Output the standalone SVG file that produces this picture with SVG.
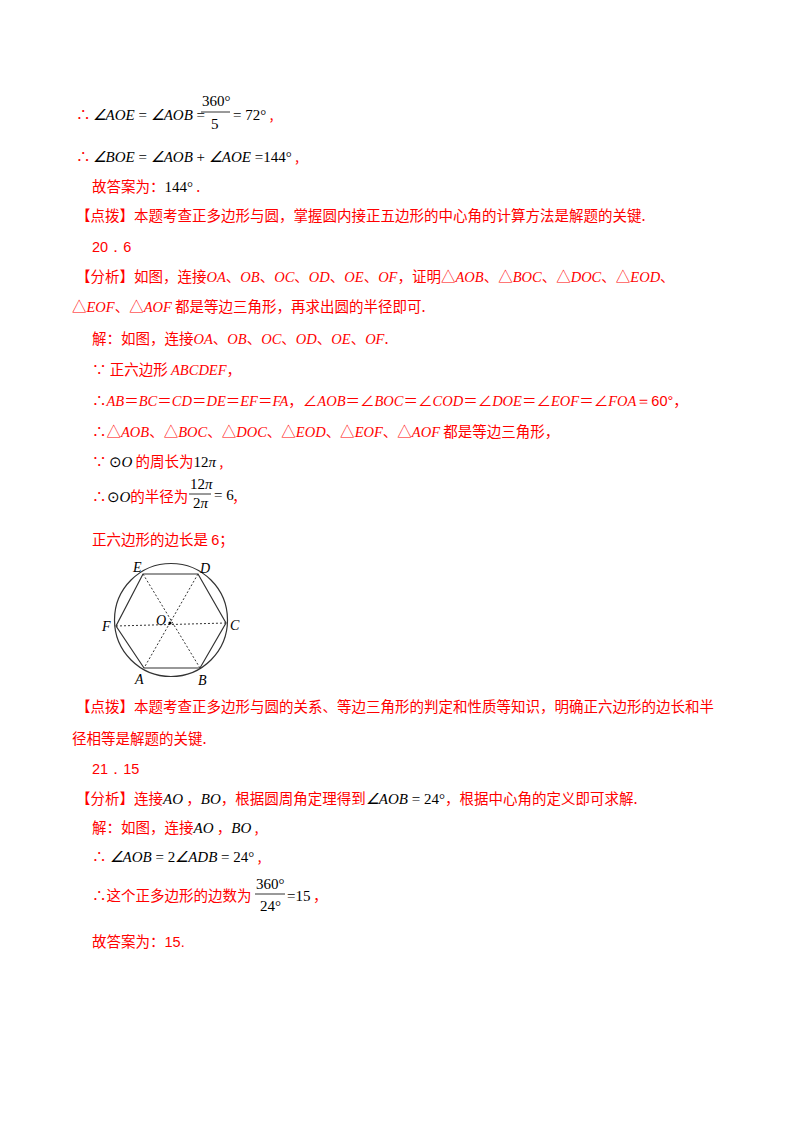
<svg xmlns="http://www.w3.org/2000/svg" width="800" height="1132" viewBox="0 0 800 1132">
<style>
text{font-family:"Noto Sans CJK SC",sans-serif;font-size:14.5px;fill:#f00}
.m{font-family:"Liberation Serif",serif;font-style:italic}
.k{font-family:"Liberation Serif",serif;fill:#000;font-size:15px}
.ki{font-family:"Liberation Serif",serif;fill:#000;font-style:italic;font-size:15px}
.n{font-family:"Liberation Sans",sans-serif}
.lab{font-family:"Liberation Serif",serif;font-style:italic;fill:#000;font-size:14px}
.dash{stroke:#333;stroke-width:1;stroke-dasharray:2,2;fill:none}
</style>
<rect width="800" height="1132" fill="#fff"/>
<text x="76" y="120">∴<tspan class="ki" dx="2">∠AOE</tspan><tspan class="k"> = </tspan><tspan class="ki">∠AOB</tspan><tspan class="k"> =</tspan></text>
<text class="k" x="202" y="106">360°</text>
<line x1="201" y1="112" x2="230" y2="112" stroke="#000" stroke-width="0.8"/>
<text class="k" x="211" y="129">5</text>
<text x="233" y="120"><tspan class="k">= 72°</tspan> ,</text>
<text x="76" y="162">∴<tspan class="ki" dx="2">∠BOE</tspan><tspan class="k"> = </tspan><tspan class="ki">∠AOB</tspan><tspan class="k"> + </tspan><tspan class="ki">∠AOE</tspan><tspan class="k"> =144°</tspan> ,</text>
<text x="92" y="192">故答案为：<tspan class="k">144°</tspan> .</text>
<text x="76" y="221">【点拨】本题考查正多边形与圆，掌握圆内接正五边形的中心角的计算方法是解题的关键.</text>
<text x="92" y="252" class="n" font-size="15">20．6</text>
<text x="76" y="282">【分析】如图，连接<tspan class="m">OA</tspan>、<tspan class="m">OB</tspan>、<tspan class="m">OC</tspan>、<tspan class="m">OD</tspan>、<tspan class="m">OE</tspan>、<tspan class="m">OF</tspan>，证明△<tspan class="m">AOB</tspan>、△<tspan class="m">BOC</tspan>、△<tspan class="m">DOC</tspan>、△<tspan class="m">EOD</tspan>、</text>
<text x="72" y="312">△<tspan class="m">EOF</tspan>、△<tspan class="m">AOF</tspan> 都是等边三角形，再求出圆的半径即可.</text>
<text x="92" y="344">解：如图，连接<tspan class="m">OA</tspan>、<tspan class="m">OB</tspan>、<tspan class="m">OC</tspan>、<tspan class="m">OD</tspan>、<tspan class="m">OE</tspan>、<tspan class="m">OF</tspan>.</text>
<text x="92" y="375">∵ 正六边形 <tspan class="m">ABCDEF</tspan>，</text>
<text x="92" y="406">∴<tspan class="m">AB</tspan>＝<tspan class="m">BC</tspan>＝<tspan class="m">CD</tspan>＝<tspan class="m">DE</tspan>＝<tspan class="m">EF</tspan>＝<tspan class="m">FA</tspan>，∠<tspan class="m">AOB</tspan>＝∠<tspan class="m">BOC</tspan>＝∠<tspan class="m">COD</tspan>＝∠<tspan class="m">DOE</tspan>＝∠<tspan class="m">EOF</tspan>＝∠<tspan class="m">FOA</tspan><tspan class="n">＝60°</tspan>，</text>
<text x="92" y="437">∴△<tspan class="m">AOB</tspan>、△<tspan class="m">BOC</tspan>、△<tspan class="m">DOC</tspan>、△<tspan class="m">EOD</tspan>、△<tspan class="m">EOF</tspan>、△<tspan class="m">AOF</tspan> 都是等边三角形，</text>
<text x="92" y="467">∵<tspan class="k" dx="2">⊙</tspan><tspan class="ki">O</tspan> 的周长为<tspan class="k">12</tspan><tspan class="ki">π</tspan> ,</text>
<text x="92" y="502">∴<tspan class="k">⊙</tspan><tspan class="ki">O</tspan>的半径为</text>
<text x="190" y="489" class="k" font-size="13">12<tspan class="ki" font-size="13">π</tspan></text>
<line x1="189" y1="494" x2="211" y2="494" stroke="#000" stroke-width="0.8"/>
<text x="193" y="508" class="k" font-size="13">2<tspan class="ki" font-size="13">π</tspan></text>
<text x="214" y="500" class="k" font-size="13">= 6</text>
<text x="232" y="502">，</text>
<text x="92" y="545">正六边形的边长是 <tspan class="n">6</tspan>；</text>
<g id="figure">
<circle cx="171" cy="620" r="56.5" fill="none" stroke="#333" stroke-width="1.2"/>
<polygon points="143,574 198,574 226,623 200,668 144,668 116,626" fill="none" stroke="#333" stroke-width="1.2"/>
<g id="connectors">
<line class="dash" x1="143" y1="574" x2="200" y2="668"/>
<line class="dash" x1="198" y1="574" x2="144" y2="668"/>
<line class="dash" x1="116" y1="626" x2="226" y2="623"/>
</g>
<circle cx="170" cy="623" r="1.6" fill="#000"/>
<text class="lab" x="133" y="572">E</text>
<text class="lab" x="200" y="573">D</text>
<text class="lab" x="102" y="631">F</text>
<text class="lab" x="230" y="630">C</text>
<text class="lab" x="135" y="684">A</text>
<text class="lab" x="198" y="685">B</text>
<text class="lab" x="156" y="625">O</text>
</g>
<text x="76" y="712">【点拨】本题考查正多边形与圆的关系、等边三角形的判定和性质等知识，明确正六边形的边长和半</text>
<text x="72" y="744">径相等是解题的关键.</text>
<text x="92" y="774" class="n" font-size="15">21．15</text>
<text x="76" y="804">【分析】连接<tspan class="ki">AO</tspan> ，<tspan class="ki">BO</tspan>，根据圆周角定理得到<tspan class="ki">∠AOB</tspan><tspan class="k"> = 24°</tspan>，根据中心角的定义即可求解.</text>
<text x="92" y="833">解：如图，连接<tspan class="ki">AO</tspan> ，<tspan class="ki">BO</tspan> ,</text>
<text x="92" y="862">∴<tspan class="ki" dx="3">∠AOB</tspan><tspan class="k"> = 2</tspan><tspan class="ki">∠ADB</tspan><tspan class="k"> = 24°</tspan> ,</text>
<text x="92" y="901">∴这个正多边形的边数为</text>
<text x="256" y="889" class="k">360°</text>
<line x1="255" y1="894" x2="285" y2="894" stroke="#000" stroke-width="0.8"/>
<text x="260" y="911" class="k">24°</text>
<text x="287" y="901" class="k">=15</text>
<text x="313" y="901">，</text>
<text x="92" y="947">故答案为：<tspan class="n">15.</tspan></text>
</svg>
